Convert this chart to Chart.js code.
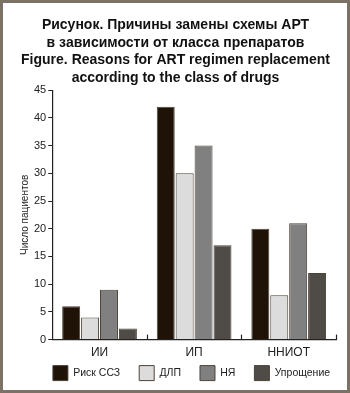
<!DOCTYPE html>
<html>
<head>
<meta charset="utf-8">
<script src="https://cdn.jsdelivr.net/npm/chart.js@4.4.1/dist/chart.umd.min.js"></script>
<style>
  html, body { margin: 0; padding: 0; background: #fff; }
  #wrap {
    width: 350px; height: 393px; box-sizing: border-box;
    border: 3px solid #7b7165; background: #fff;
  }
</style>
</head>
<body>
<div id="wrap"><canvas id="reasons"></canvas></div>
<script>
// классы препаратов
const classes = ['ИИ', 'ИП', 'ННИОТ'];

// число пациентов по причинам замены
const riskCvd = [6, 42, 20];
const dlp = [4, 30, 8];
const adverse = [9, 35, 21];
const simplify = [2, 17, 12];

const titleLines = [
  'Рисунок. Причины замены схемы АРТ',
  'в зависимости от класса препаратов',
  'Figure. Reasons for ART regimen replacement',
  'according to the class of drugs'
];

// маленькие засечки вверх на границах категорий
const boundaryTicks = {
  id: 'boundaryTicks',
  afterDraw(chart) {
    const x = chart.scales.x;
    const ctx = chart.ctx;
    const bottom = chart.chartArea.bottom;
    ctx.save();
    ctx.strokeStyle = '#222';
    ctx.lineWidth = 1.2;
    for (let i = 1; i <= classes.length; i++) {
      const px = Math.round(x.getPixelForValue(i - 0.5)) + 0.5;
      ctx.beginPath();
      ctx.moveTo(px, bottom);
      ctx.lineTo(px, bottom - 5);
      ctx.stroke();
    }
    ctx.restore();
  }
};

// легенда: меньше места при раскладке, потом ставим её под осью
const legendTweak = {
  id: 'legendTweak',
  beforeInit(chart) {
    const fit = chart.legend.fit;
    chart.legend.fit = function () {
      fit.call(this);
      this.fullHeight = this.height;
      this.height -= 20;
    };
  },
  afterLayout(chart) {
    const lg = chart.legend;
    lg.left += 16;
    lg.right += 16;
    lg.top = chart.chartArea.bottom + 7;
    lg.height = lg.fullHeight;
    lg.bottom = lg.top + lg.height;
  }
};

const barCommon = {
  borderColor: '#4d4339',
  borderWidth: 1,
  categoryPercentage: 0.8,
  barPercentage: 0.95,
};

new Chart(document.querySelector('#reasons'), {
  type: 'bar',
  data: {
    labels: classes,
    datasets: [
      { label: 'Риск ССЗ', data: riskCvd, backgroundColor: '#1f1207', ...barCommon },
      { label: 'ДЛП', data: dlp, backgroundColor: '#dcdcdc', ...barCommon },
      { label: 'НЯ', data: adverse, backgroundColor: '#808080', ...barCommon },
      { label: 'Упрощение', data: simplify, backgroundColor: '#4f4c48', ...barCommon },
    ],
  },
  options: {
    responsive: true,
    maintainAspectRatio: false,
    animation: false,
    layout: { padding: { left: 12, right: 11, top: 0, bottom: 0 } },
    plugins: {
      title: {
        display: true,
        text: titleLines,
        color: '#111',
        font: { family: 'Liberation Sans', size: 14, weight: 'bold', lineHeight: 1.27 },
        padding: { top: 13, bottom: 3 },
      },
      legend: {
        position: 'bottom',
        labels: {
          color: '#222',
          font: { family: 'Liberation Sans', size: 10.5 },
          boxWidth: 15,
          boxHeight: 15,
          padding: 19,
        },
      },
      tooltip: { enabled: false },
    },
    scales: {
      x: {
        grid: { drawOnChartArea: false, drawTicks: false },
        border: { color: '#222', width: 1.2 },
        ticks: { color: '#222', font: { family: 'Liberation Sans', size: 12 }, padding: 6 },
      },
      y: {
        min: 0,
        max: 45,
        ticks: { stepSize: 5, color: '#222', font: { family: 'Liberation Sans', size: 11 }, padding: 2 },
        grid: { drawOnChartArea: false, drawTicks: true, tickLength: 4, color: '#222' },
        border: { color: '#222', width: 1.2 },
        title: {
          display: true,
          text: 'Число пациентов',
          color: '#222',
          font: { family: 'Liberation Sans', size: 10 },
          padding: { bottom: 1 },
        },
      },
    },
  },
  plugins: [boundaryTicks, legendTweak],
});
</script>
</body>
</html>
